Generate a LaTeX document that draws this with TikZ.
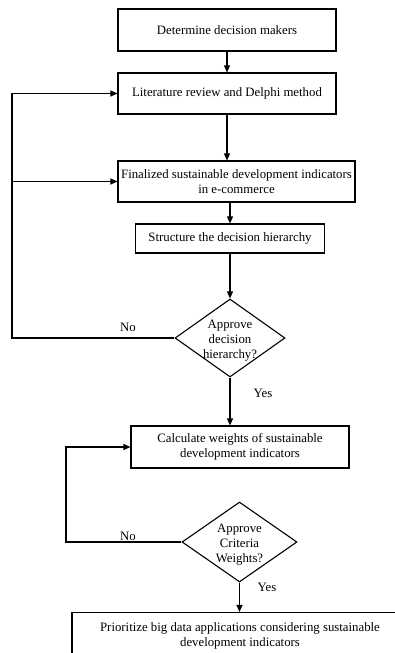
\documentclass[tikz,border=0pt]{standalone}
\usepackage{fontspec}
\setmainfont{Liberation Serif}
\usetikzlibrary{shapes.geometric,arrows.meta}
\newcommand{\dtext}[1]{\smash{\makebox[0pt]{\raisebox{-5pt}{\begin{tabular}{@{}c@{}}#1\end{tabular}}}}}
\begin{document}
\begin{tikzpicture}[x=1pt,y=-1pt,line width=1.1pt,font=\fontsize{12.8}{15}\selectfont]
\tikzstyle{every node}+=[inner sep=0pt]
\tikzstyle{box}=[draw=black,rectangle,align=center]
\tikzstyle{decide}=[draw=black,diamond]
\tikzstyle{arr}=[-{Triangle[length=7pt,width=6pt]}]
\useasboundingbox (0,0) rectangle (395,653);
\clip (0,0) rectangle (395,653);
% steps
\node [box,minimum width=218,minimum height=42] (b1) at (227,30) {Determine decision makers};
\node [box,minimum width=218,minimum height=41] (b2) at (227,93.5) {Literature review and Delphi method};
\node [box,minimum width=237,minimum height=41] (b3) at (236.5,181.5) {Finalized sustainable development indicators\\in e-commerce};
\node [box,minimum width=189,minimum height=29] (b4) at (230,238.5) {Structure the decision hierarchy};
\node [decide,minimum width=110,minimum height=78] (d1) at (230,338) {\dtext{Approve\\decision\\hierarchy?}};
\node [box,minimum width=218,minimum height=42] (b5) at (240,447) {Calculate weights of sustainable\\development indicators};
\node [decide,minimum width=115,minimum height=80] (d2) at (239.5,542) {\dtext{Approve\\Criteria\\Weights?}};
\node [box,minimum width=336,minimum height=47] (b6) at (240,636) {Prioritize big data applications considering sustainable\\development indicators};
% answers
\node (no1) at (128,327) {No};
\node (yes1) at (263,393) {Yes};
\node (no2) at (128,536) {No};
\node (yes2) at (267,587) {Yes};
% arrows
\draw [arr] (b1) -- (b2);
\draw [arr] (b2.south) -- (b2.south |- b3.north);
\draw [arr] (b3.south -| b4.north) -- (b4.north);
\draw [arr] (b4) -- (d1);
\draw [arr] (d1.south) -- (d1.south |- b5.north);
\draw [arr] (d2.south) -- (d2.south |- b6.north);
% loops back
\coordinate (lft1) at (12,338);
\coordinate (lft2) at (66,542);
\draw [arr] (d1.west) -- (lft1) |- (b2.west);
\draw [arr] (lft1 |- b3.west) -- (b3.west);
\draw [arr] (d2.west) -- (lft2) |- (b5.west);
\end{tikzpicture}
\end{document}
